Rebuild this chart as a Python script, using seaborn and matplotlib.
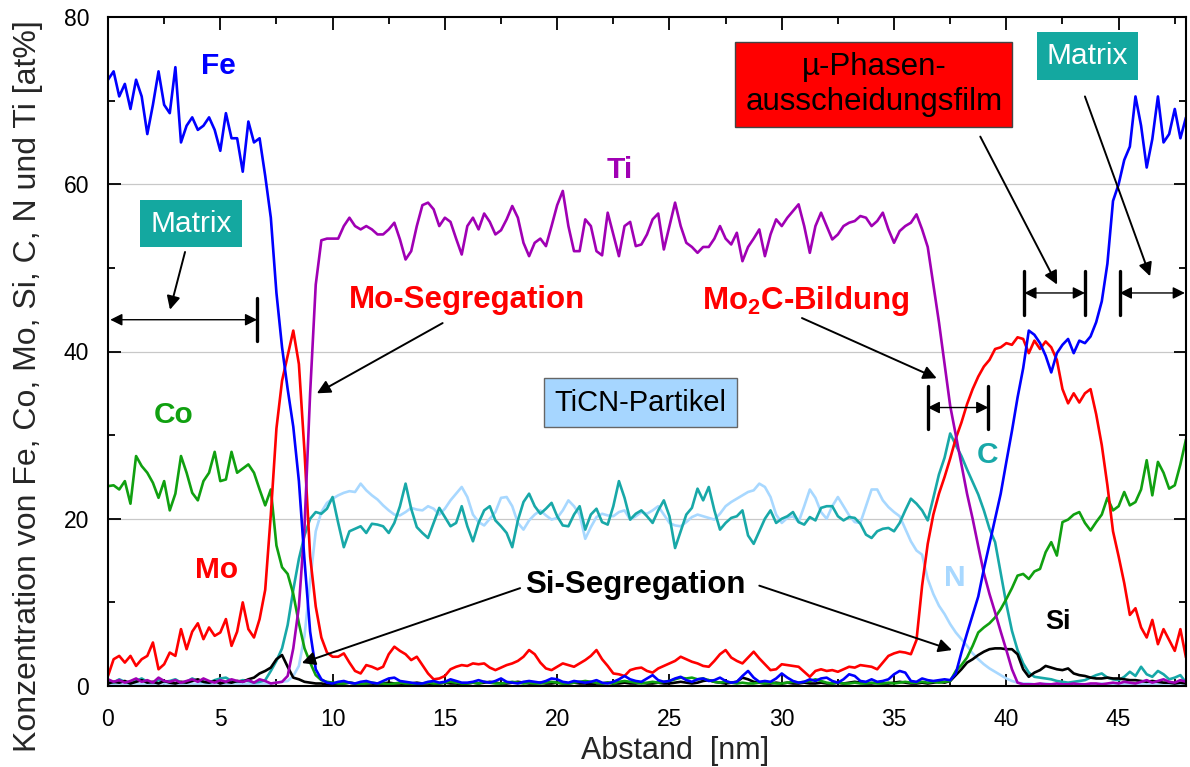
import numpy as np
import pandas as pd
import matplotlib
matplotlib.use("Agg")
import matplotlib.pyplot as plt
import seaborn as sns

# ---------------- data (0.25 nm sampling) ----------------
distance = np.round(np.arange(0, 48.001, 0.25), 2)

fe = [72.5, 73.5, 70.5, 72, 69, 72.5, 70.5, 66, 69.5, 73.5, 69.5, 68.5, 74, 65, 67, 68,
      66.5, 67, 68, 66.5, 64, 68.5, 65.5, 65.5, 61.5, 67.5, 65, 65.5, 61, 56, 47, 40.5,
      35.5, 31, 24.5, 15, 6.5, 2, 0.8, 0.4,
      0.3, 0.5, 0.6, 0.4, 0.3, 0.5, 0.6, 0.4, 0.3, 0.6, 0.9, 1.0, 0.6, 0.5, 0.4, 0.3,
      0.3, 0.5, 0.6, 0.4, 0.5, 0.8, 0.6, 0.4, 0.4, 0.5, 0.7, 0.5, 0.4, 0.6, 0.9, 0.5,
      0.4, 0.3, 0.5, 0.6, 0.5, 0.4, 0.6, 0.9, 0.8, 0.5, 0.4, 0.6, 0.5, 0.4, 0.5, 0.7,
      0.4, 0.3, 0.5, 0.8, 1.2, 0.8, 0.6, 0.5, 0.9, 1.3, 0.7, 0.5, 0.6, 0.9, 1.1, 0.7,
      0.5, 0.8, 0.9, 0.6, 0.7, 1.0, 0.6, 0.4, 0.5, 1.2, 1.8, 1.0, 0.5, 0.6, 0.5, 0.9,
      1.5, 1.0, 0.6, 0.4, 0.5, 0.8, 0.6, 0.9, 1.0, 0.6, 0.4, 0.8, 1.4, 1.2, 0.6, 0.5,
      0.8, 0.5, 0.6, 0.8, 1.4, 1.8, 1.6, 0.6, 0.5, 0.9, 0.7, 0.6, 0.7, 0.8, 0.7, 1.5,
      4, 6.3, 8.5, 10.7, 14, 17, 20, 23, 26.8, 30.5, 34.5, 38, 42.5, 42, 41, 39.5,
      37.5, 39.8, 40.8, 41.5, 39.8, 41.3, 41, 41.8, 43.5, 46, 50.5, 58, 60, 62.9, 64.5, 70.5,
      67, 62, 65.4, 70.5, 65, 66, 69, 65.5, 68]

ti = [0.8, 0.5, 0.7, 0.4, 0.6, 0.9, 0.5, 0.7, 0.4, 1.0, 0.6, 0.5, 0.7, 0.4, 0.6, 0.8,
      0.5, 0.9, 0.6, 0.4, 0.7, 0.5, 0.8, 0.6, 0.5, 0.7, 0.4, 0.8, 0.6, 0.3, 0.4, 0.5,
      1.2, 4.5, 9.5, 19, 35, 48, 53.3, 53.5,
      53.5, 53.5, 55, 56, 55, 54.6, 55, 54.6, 54, 54, 54.6, 55.4, 53.4, 51, 52, 55,
      57.5, 57.8, 57, 55, 56, 55.5, 53.5, 51.6, 55, 56, 54.6, 56.5, 55.5, 54, 54.5, 55.8,
      57.4, 56, 53, 51.4, 53, 53.5, 52.6, 55, 57.5, 59.2, 55, 52, 52, 55.8, 55, 52,
      51.5, 56.6, 54, 51.4, 55, 55.5, 52.6, 52.8, 54, 55.8, 56.5, 52.2, 55, 57.8, 55, 53,
      52.5, 51.8, 52.5, 52.5, 53.5, 55, 53.5, 52.8, 54.2, 50.8, 52.5, 53.5, 54.6, 51.4, 54, 55.8,
      55, 56, 56.8, 57.6, 55, 51.8, 55, 56.6, 55, 53.4, 54, 55, 55.4, 55.6, 56.2, 56,
      55, 55.6, 56.6, 54.6, 53, 54.4, 55, 55.4, 56.4, 54.6, 52.5, 48, 43.5, 38.5, 33.5, 30,
      26.5, 23, 20, 16.7, 13.5, 11, 8.8, 6.5, 4.3, 2, 0.4, 0.2, 0.2, 0.2, 0.3, 0.2,
      0.2, 0.3, 0.2, 0.2, 0.3, 0.2, 0.2, 0.3, 0.3, 0.2, 0.3, 0.4, 0.3, 0.5, 0.4, 0.3,
      0.5, 0.7, 0.4, 0.6, 0.8, 0.5, 0.4, 0.7, 0.5]

mo = [1.2, 3.2, 3.6, 2.8, 3.6, 2.4, 3.2, 3.6, 5.2, 2.0, 2.6, 4.0, 3.6, 6.8, 4.4, 6.5,
      7.5, 5.6, 7.0, 6.0, 6.4, 8.0, 4.8, 6.5, 10.0, 6.8, 5.8, 8.0, 11.5, 20.5, 30.8, 36.5,
      39.5, 42.5, 38.5, 28, 15.5, 9.5, 5.8, 4,
      3.5, 3.5, 3.9, 2.8, 1.8, 1.5, 2.5, 2.3, 2.0, 2.3, 3.8, 4.7, 4.2, 3.8, 3.1, 3.5,
      2.5, 1.5, 0.8, 0.9, 1.2, 2.0, 2.3, 2.5, 2.4, 2.7, 2.6, 2.7, 2.2, 1.9, 2.2, 2.5,
      2.7, 3.0, 3.5, 4.3, 3.8, 2.8, 2.1, 1.9, 2.3, 2.7, 2.5, 2.3, 2.7, 3.1, 3.6, 4.3,
      3.2, 2.4, 1.5, 1.4, 1.2, 1.9, 2.1, 2.2, 1.8, 1.6, 2.1, 2.4, 2.7, 3.0, 3.5, 3.2,
      2.9, 2.7, 2.4, 2.3, 3.0, 3.8, 4.3, 3.4, 3.0, 2.7, 3.4, 4.1, 3.3, 2.6, 1.9, 2.0,
      2.6, 2.5, 2.4, 2.3, 1.7, 1.1, 1.8, 2.0, 1.8, 1.9, 1.7, 2.0, 2.3, 2.2, 2.5, 2.4,
      2.3, 2.0, 2.8, 3.6, 3.9, 4.1, 4.0, 3.8, 5.5, 12, 17, 20.5, 23, 25, 27.2, 29.6,
      31.5, 33.7, 35.5, 37, 38.2, 39, 40.3, 40.5, 41, 40.8, 41.7, 41.5, 39.8, 41.3, 40.3, 41.2,
      40.5, 39, 35.5, 33.8, 35, 33.9, 35, 35.5, 32.5, 28.8, 24, 18.5, 15.5, 12.3, 8.5, 9.3,
      7, 5.8, 7.9, 5.0, 6.8, 5.5, 4.2, 6.8, 3.4]

co = [23.9, 24, 23.5, 24.5, 21.8, 27.5, 26.3, 25.5, 24.3, 22.5, 24.5, 21, 23, 27.5, 25.5, 23.1,
      22.2, 24.5, 25.5, 28, 24.5, 24.7, 28, 25.5, 26, 26.5, 25.5, 23.5, 21.6, 23.5, 16.8, 14.2,
      13.4, 11, 7.5, 4.5, 2.8, 1.3, 0.7, 0.5,
      0.4, 0.3, 0.3, 0.4, 0.3, 0.2, 0.3, 0.4, 0.3, 0.3, 0.2, 0.3, 0.4, 0.3, 0.3, 0.2,
      0.3, 0.4, 0.3, 0.3, 0.4, 0.5, 0.4, 0.3, 0.3, 0.4, 0.3, 0.5, 0.4, 0.3, 0.3, 0.4,
      0.5, 0.4, 0.3, 0.4, 0.3, 0.3, 0.4, 0.5, 0.4, 0.3, 0.3, 0.4, 0.5, 0.6, 0.5, 0.4,
      0.3, 0.4, 0.3, 0.5, 0.6, 0.5, 0.4, 0.3, 0.4, 0.5, 0.4, 0.5, 0.6, 0.8, 1.0, 0.9,
      1.0, 0.8, 0.9, 0.7, 0.5, 0.4, 0.5, 0.4, 0.3, 0.4, 0.3, 0.3, 0.4, 0.3, 0.4, 0.3,
      0.3, 0.4, 0.5, 0.4, 0.5, 0.6, 0.8, 0.6, 0.4, 0.3, 0.4, 0.3, 0.3, 0.4, 0.3, 0.3,
      0.4, 0.3, 0.3, 0.4, 0.3, 0.4, 0.5, 0.4, 0.4, 0.5, 0.4, 0.5, 0.4, 0.5, 0.6, 1.8,
      2.5, 3.4, 4.8, 6.4, 7.0, 7.5, 8.2, 9.2, 10.4, 11.7, 13.2, 13.4, 12.8, 13.7, 14, 16,
      17.2, 15.6, 19.6, 19.9, 20.5, 20.8, 19.5, 18.6, 19.6, 20.5, 22.5, 21, 21.5, 23.2, 21.6, 22,
      23.5, 27, 22.8, 26.8, 25.5, 23.6, 24, 26.5, 29.5]

c = [0.6, 0.4, 0.8, 0.5, 0.3, 0.6, 0.9, 0.5, 0.4, 0.7, 0.5, 0.6, 0.8, 0.4, 0.5, 0.9,
     0.6, 0.5, 0.4, 0.7, 0.9, 1.0, 0.6, 0.5, 0.7, 0.6, 0.4, 0.5, 0.7, 1.8, 3.0, 4.5,
     7.3, 11.5, 15.2, 18, 20, 20.8, 20.6, 21.2,
     22.6, 19.5, 16.6, 18.5, 18.8, 19.1, 18.3, 19.4, 19.3, 19.1, 18.3, 19.5, 21.5, 24.2, 21.2, 19,
     18.3, 17.7, 19.5, 21.3, 20.2, 19.1, 19.5, 21.5, 19.1, 17.3, 19.5, 21, 21.5, 19.8, 19.1, 18.3,
     16.6, 19.8, 22, 23, 21.5, 20.6, 21.2, 21.9, 20.3, 19.2, 19.1, 20.5, 21.5, 18.7, 20.5, 21.2,
     19.6, 19.3, 21.5, 24.5, 22.5, 19.9, 20.6, 21, 20.3, 19.5, 21, 22.2, 20.3, 16.5, 18.5, 20.5,
     21.3, 23.6, 22.2, 23.8, 21, 18.7, 19.5, 20.1, 20.3, 21, 18, 17, 18.5, 20, 21, 19.5,
     20, 20.3, 20.8, 19.6, 19.3, 20.2, 19.8, 21.3, 21.5, 21.5, 20.3, 19.8, 20.2, 20.1, 19.4, 18.1,
     17.7, 18.5, 18.8, 18.9, 18.5, 19.5, 21, 22.4, 21.8, 21, 19.8, 22.5, 25.3, 27.3, 30.2, 28.8,
     27.5, 25.9, 24.4, 22.9, 21, 18.8, 17.2, 13.5, 9.8, 6.6, 4.3, 2.7, 1.6, 1.1, 1.0, 0.9,
     0.8, 0.6, 0.5, 0.4, 0.5, 0.6, 0.7, 1.0, 1.3, 1.5, 1.0, 0.8, 0.7, 1.1, 1.7, 1.2,
     2.3, 1.4, 1.1, 1.8, 1.4, 0.8, 1.0, 1.3, 0.4]

n = [0.3, 0.2, 0.3, 0.2, 0.3, 0.3, 0.2, 0.3, 0.2, 0.3, 0.3, 0.2, 0.3, 0.2, 0.3, 0.3,
     0.2, 0.3, 0.2, 0.3, 0.3, 0.2, 0.3, 0.3, 0.2, 0.3, 0.2, 0.3, 0.3, 0.3, 0.4, 0.5,
     0.6, 1.2, 2.4, 6, 12.5, 18.5, 20.8, 21.9,
     22.4, 22.8, 23.1, 23.3, 23.2, 24.2, 23.4, 22.8, 22.3, 21.6, 21, 20.5, 20.4, 20.8, 21.3, 21.1,
     21, 21.5, 21.2, 20.5, 21.2, 22.2, 23, 23.8, 22.6, 20.5, 19.6, 19.2, 20, 20.8, 22.5, 22.6,
     21.5, 19.5, 18.7, 19.8, 20.5, 21, 20.4, 19.9, 20.1, 21, 22.2, 21.5, 20.5, 17.6, 19, 20.2,
     20.6, 20.4, 20.3, 20.8, 21, 19.9, 20.3, 20.8, 20.6, 21, 21.5, 20.5, 19.5, 19.2, 19.1, 19.6,
     20.2, 20.5, 20.3, 20.1, 19.9, 20.6, 21.5, 22, 22.4, 22.8, 23.2, 23.4, 24.2, 23.8, 22.6, 20.5,
     19.5, 20.1, 20.3, 19.6, 21.5, 23.5, 22.5, 20.8, 20, 21.5, 22.6, 21.5, 20.4, 19.6, 19.5, 21.5,
     23.5, 23.5, 22.2, 21.4, 20.8, 20.3, 18.8, 17.3, 16.2, 15.7, 12.8, 11, 9.6, 8.6, 7.4, 6.4,
     5.6, 4.8, 3.9, 3.2, 2.6, 2.1, 1.7, 1.3, 0.9, 0.6, 0.4, 0.3, 0.3, 0.2, 0.2, 0.3,
     0.2, 0.2, 0.3, 0.2, 0.2, 0.3, 0.2, 0.2, 0.2, 0.3, 0.2, 0.2, 0.3, 0.2, 0.2, 0.3,
     0.2, 0.3, 0.2, 0.2, 0.3, 0.2, 0.2, 0.3, 0.2]

si = [0.3, 0.5, 0.4, 0.6, 0.3, 0.5, 0.7, 0.4, 0.5, 0.3, 0.6, 0.4, 0.3, 0.5, 0.4, 0.6,
      0.8, 0.5, 0.4, 0.6, 0.3, 0.5, 0.4, 0.6, 0.5, 0.8, 1.0, 1.5, 1.8, 2.2, 3.2, 3.7,
      2.3, 1.0, 0.8, 0.5, 0.4, 0.3, 0.3, 0.2,
      0.3, 0.2, 0.3, 0.4, 0.3, 0.2, 0.3, 0.3, 0.2, 0.3, 0.4, 0.3, 0.3, 0.2, 0.3, 0.4,
      0.3, 0.3, 0.2, 0.3, 0.4, 0.3, 0.3, 0.2, 0.3, 0.4, 0.3, 0.4, 0.5, 0.4, 0.3, 0.3,
      0.4, 0.5, 0.4, 0.3, 0.3, 0.4, 0.3, 0.3, 0.4, 0.3, 0.3, 0.4, 0.3, 0.3, 0.2, 0.3,
      0.3, 0.4, 0.3, 0.3, 0.4, 0.3, 0.3, 0.4, 0.3, 0.3, 0.4, 0.3, 0.3, 0.4, 0.5, 0.4,
      0.3, 0.4, 0.6, 0.7, 0.5, 0.4, 0.3, 0.4, 0.5, 1.0, 0.8, 0.5, 0.4, 0.3, 0.3, 0.4,
      0.3, 0.4, 0.3, 0.3, 0.4, 0.3, 0.3, 0.4, 0.3, 0.3, 0.4, 0.3, 0.4, 0.5, 0.4, 0.3,
      0.3, 0.4, 0.3, 0.3, 0.4, 0.5, 0.4, 0.3, 0.3, 0.4, 0.3, 0.4, 0.5, 0.4, 0.6, 1.3,
      2.0, 2.8, 3.2, 3.7, 4.1, 4.4, 4.5, 4.5, 4.4, 4.4, 3.8, 2.0, 1.1, 1.6, 1.9, 2.4,
      2.2, 2.0, 1.9, 2.1, 1.5, 1.3, 1.2, 1.0, 0.9, 0.9, 1.0, 0.9, 0.9, 0.8, 0.7, 0.7,
      0.6, 0.5, 0.6, 0.5, 0.4, 0.4, 0.3, 0.4, 0.3]

series_names = ["N", "C", "Si", "Co", "Mo", "Ti", "Fe"]
series_values = [n, c, si, co, mo, ti, fe]
palette = {"Fe": "#0000ff", "Ti": "#a000b4", "Mo": "#ff0000", "Co": "#10a010",
           "C": "#18a8a8", "N": "#a8d8ff", "Si": "#000000"}

# ---------------- figure ----------------
sns.set_theme(style="ticks")
plt.rcParams["font.family"] = ["Liberation Sans", "DejaVu Sans"]
plt.rcParams["mathtext.fontset"] = "custom"
plt.rcParams["mathtext.rm"] = "Liberation Sans"
plt.rcParams["mathtext.bf"] = "Liberation Sans:bold"

fig = plt.figure(figsize=(11.9, 7.67), dpi=100)
ax = fig.add_axes([108 / 1190, 1 - 686 / 767, (1186 - 108) / 1190, (686 - 17) / 767])

for name, vals in zip(series_names, series_values):
    sns.lineplot(x=distance, y=vals, ax=ax, color=palette[name], lw=1.9,
                 estimator=None, sort=False)

ax.set_xlim(0, 48)
ax.set_ylim(0, 80)
ax.set_xticks([0, 5, 10, 15, 20, 25, 30, 35, 40, 45])
ax.set_xticks(np.arange(2.5, 48, 5), minor=True)
ax.set_yticks([0, 20, 40, 60, 80])
ax.set_yticks([10, 30, 50, 70], minor=True)
ax.tick_params(which="both", direction="in", top=True, right=True, width=1.3,
               labelsize=16.5, colors="black")
ax.tick_params(axis="x", which="major", pad=16)
ax.tick_params(axis="y", which="major", pad=13.5)
ax.tick_params(which="major", length=9)
ax.tick_params(which="minor", length=5)
for s in ax.spines.values():
    s.set_linewidth(1.5)
    s.set_color("black")
for gy in [20, 40, 60]:
    ax.axhline(gy, color="#c8c8c8", lw=0.9, zorder=0)

ax.set_xlabel("Abstand  [nm]", fontsize=22)
ax.xaxis.set_label_coords(0.526, -0.074)
ax.set_ylabel("Konzentration von Fe, Co, Mo, Si, C, N und Ti [at%]", fontsize=23)
ax.yaxis.set_label_coords(-0.074, 0.448)
ax.yaxis.label.set_va("center")

# ---------------- labels ----------------
lab = dict(fontweight="bold", ha="center", va="center")
ax.text(4.9, 74.2, "Fe", color=palette["Fe"], fontsize=21.5, **lab)
ax.text(22.8, 61.7, "Ti", color=palette["Ti"], fontsize=21.5, **lab)
ax.text(2.9, 32.4, "Co", color=palette["Co"], fontsize=21.5, **lab)
ax.text(4.85, 13.9, "Mo", color=palette["Mo"], fontsize=21.5, **lab)
ax.text(39.15, 27.6, "C", color=palette["C"], fontsize=21.5, **lab)
ax.text(37.7, 12.9, "N", color=palette["N"], fontsize=21.5, **lab)
ax.text(42.3, 7.65, "Si", color="black", fontsize=19.5, **lab)
ax.text(16.0, 46.2, "Mo-Segregation", color="#ff0000", fontsize=22.5, **lab)
ax.text(31.05, 46.0, r"Mo$_{\mathbf{2}}$C-Bildung", color="#ff0000", fontsize=22.5, **lab)
ax.text(23.5, 12.1, "Si-Segregation", color="black", fontsize=22.5, **lab)

ax.text(23.7, 33.9, "TiCN-Partikel", fontsize=21, ha="center", va="center", color="black",
        bbox=dict(boxstyle="square,pad=0.36", fc="#a6d6ff", ec="#666666", lw=1))
ax.text(3.7, 55.3, "Matrix", fontsize=21.5, ha="center", va="center", color="white",
        bbox=dict(boxstyle="square,pad=0.33", fc="#14a8a0", ec="none"))
ax.text(43.6, 75.3, "Matrix", fontsize=21.5, ha="center", va="center", color="white",
        bbox=dict(boxstyle="square,pad=0.33", fc="#14a8a0", ec="none"))
ax.text(34.1, 71.9, "µ-Phasen-\nausscheidungsfilm", fontsize=22.5, ha="center", va="center",
        color="black", linespacing=1.2,
        bbox=dict(boxstyle="square,pad=0.32", fc="#ff0000", ec="#444444", lw=1))

# ---------------- arrows ----------------
arr = dict(arrowstyle="-|>", color="black", lw=1.4, mutation_scale=20, shrinkA=0, shrinkB=0)
for start, end in [((3.43, 51.9), (2.76, 45.0)),
                   ((14.9, 43.4), (9.3, 35.0)),
                   ((18.35, 11.7), (8.63, 2.75)),
                   ((29.0, 12.0), (37.58, 4.3)),
                   ((30.9, 44.0), (36.9, 36.8)),
                   ((38.84, 65.7), (42.26, 48.0)),
                   ((43.5, 70.5), (46.4, 49.0))]:
    ax.annotate("", xy=end, xytext=start, arrowprops=arr)

darr = dict(arrowstyle="<|-|>", color="black", lw=1.0, mutation_scale=18, shrinkA=0, shrinkB=0)
for x0, x1, yy, bars in [(0.1, 6.64, 43.8, [6.64]),
                         (36.5, 39.2, 33.3, [36.5, 39.2]),
                         (40.8, 43.5, 47.0, [40.8, 43.5]),
                         (45.05, 47.95, 47.0, [45.05])]:
    ax.annotate("", xy=(x1, yy), xytext=(x0, yy), arrowprops=darr)
    for bx in bars:
        ax.plot([bx, bx], [yy - 2.6, yy + 2.6], color="black", lw=2.4)

fig.savefig("out.png", dpi=100)
